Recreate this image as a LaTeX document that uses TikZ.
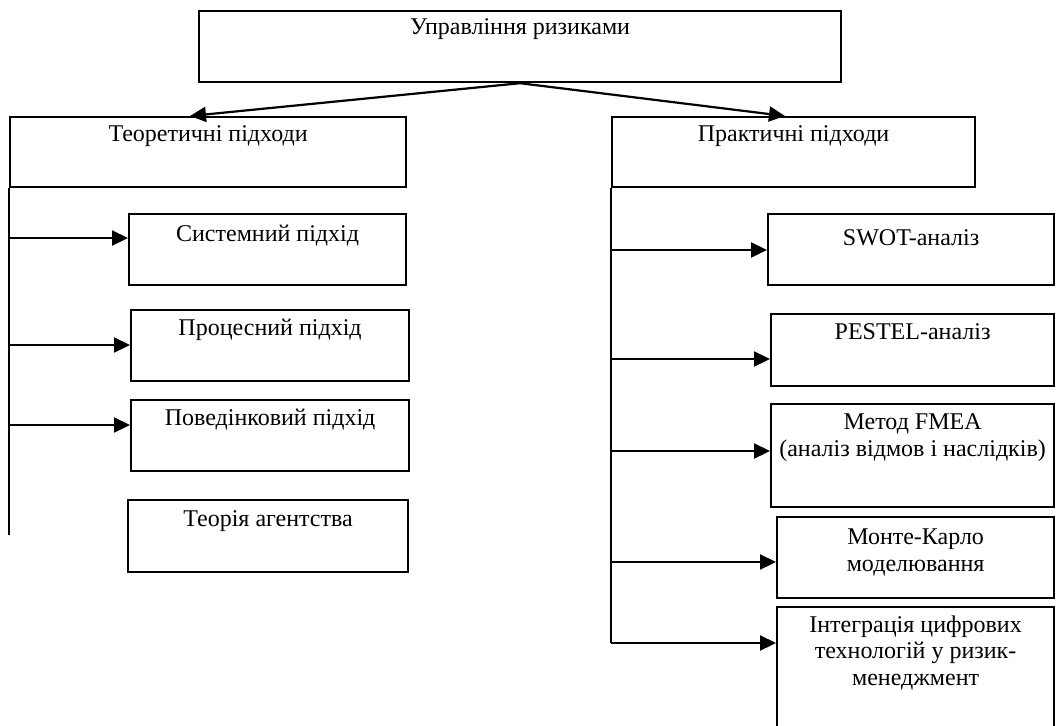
\documentclass[tikz,border=0pt]{standalone}
\usepackage{fontspec}
\setmainfont{Liberation Serif}
\usetikzlibrary{arrows.meta}
\begin{document}
\begin{tikzpicture}[x=1pt,y=-1pt,
  box/.style={draw, line width=2.2pt, rectangle, inner sep=0pt, anchor=north west},
  lbl/.style={anchor=base, inner sep=0pt, font=\fontsize{24}{26.5}\selectfont, align=center},
  trunk/.style={line width=1.3pt},
  arr/.style={line width=2.2pt, -{Triangle[length=16pt,width=15pt]}}]
\useasboundingbox (0,0) rectangle (1056,725);
% boxes
\node[box, minimum width=642pt, minimum height=71pt] (top) at (198,10) {};
\node[box, minimum width=396pt, minimum height=70pt] (theo) at (9,116) {};
\node[box, minimum width=363pt, minimum height=70pt] (prac) at (611,116) {};
\node[box, minimum width=277pt, minimum height=71pt] (sys) at (128,213) {};
\node[box, minimum width=278pt, minimum height=71pt] (proc) at (130,309) {};
\node[box, minimum width=278pt, minimum height=71pt] (beh) at (130,399) {};
\node[box, minimum width=280pt, minimum height=72pt] (agent) at (127,499) {};
\node[box, minimum width=286pt, minimum height=71pt] (swot) at (767,213) {};
\node[box, minimum width=283pt, minimum height=72pt] (pest) at (770,313) {};
\node[box, minimum width=283pt, minimum height=103pt] (fmea) at (770,403) {};
\node[box, minimum width=277pt, minimum height=81pt] (monte) at (776,516) {};
\node[box, minimum width=277pt, minimum height=125pt] (integ) at (776,606) {};
% labels
\node[lbl] (topT) at (top.north |- 0,35) {Управління ризиками};
\node[lbl] (theoT) at (theo.north |- 0,141) {Теоретичні підходи};
\node[lbl] (pracT) at (prac.north |- 0,141) {Практичні підходи};
\node[lbl] (sysT) at (sys.north |- 0,241) {Системний підхід};
\node[lbl] (procT) at (proc.north |- 0,335) {Процесний підхід};
\node[lbl] (behT) at (beh.north |- 0,425) {Поведінковий підхід};
\node[lbl] (agentT) at (agent.north |- 0,526) {Теорія агентства};
\node[lbl] (swotT) at (swot.north |- 0,245) {SWOT-аналіз};
\node[lbl] (pestT) at (pest.north |- 0,339) {PESTEL-аналіз};
\node[lbl] (fmeaT) at (fmea.north |- 0,456) {Метод FMEA\\(аналіз відмов і наслідків)};
\node[lbl] (monteT) at (monte.north |- 0,571) {Монте-Карло\\моделювання};
\node[lbl] (integT) at (integ.north |- 0,685) {Інтеграція цифрових\\технологій у ризик-\\менеджмент};
% top arrows
\draw[arr] (top.south) -- (theo.north -| 190,0);
\draw[arr] (top.south) -- (prac.north -| 785,0);
% left trunk
\coordinate (lend) at (theo.south west |- 0,535);
\draw[trunk] (theo.south west) -- (lend);
\draw[arr] (theo.south west |- 0,238) -- (sys.west |- 0,238);
\draw[arr] (theo.south west |- 0,345) -- (proc.west |- 0,345);
\draw[arr] (theo.south west |- 0,425) -- (beh.west |- 0,425);
% right trunk
\coordinate (rend) at (prac.south west |- 0,643);
\draw[trunk] (prac.south west) -- (rend);
\draw[arr] (prac.south west |- 0,250) -- (swot.west |- 0,250);
\draw[arr] (prac.south west |- 0,359) -- (pest.west |- 0,359);
\draw[arr] (prac.south west |- 0,451) -- (fmea.west |- 0,451);
\draw[arr] (prac.south west |- 0,562) -- (monte.west |- 0,562);
\draw[arr] (prac.south west |- 0,643) -- (integ.west |- 0,643);
\end{tikzpicture}
\end{document}
